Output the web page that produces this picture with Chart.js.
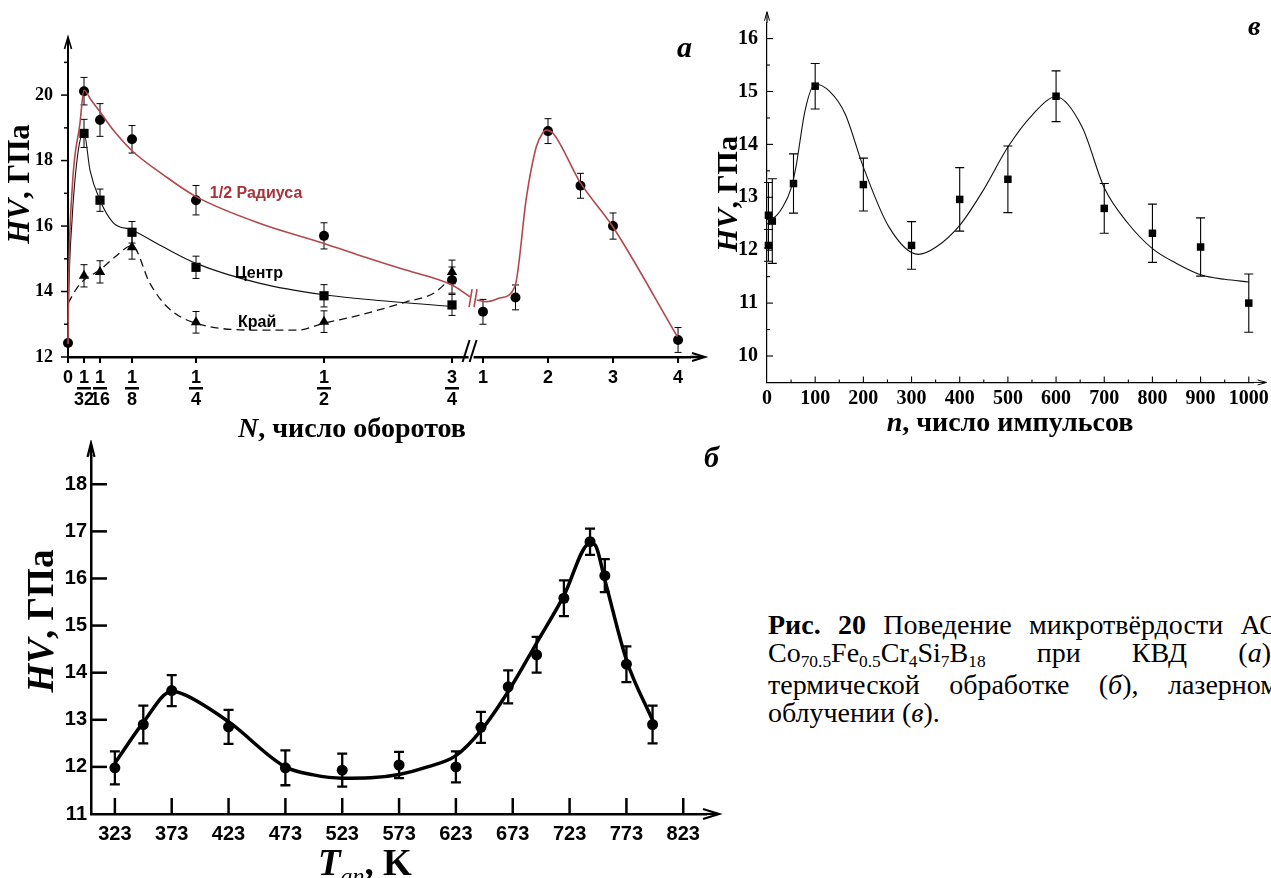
<!DOCTYPE html>
<html lang="ru">
<head>
<meta charset="utf-8">
<title>Микротвёрдость АС</title>
<script src="https://cdn.jsdelivr.net/npm/chart.js@4.4.1/dist/chart.umd.min.js"></script>
<style>
  html, body { margin: 0; background: #fff; }
  body { position: relative; width: 1271px; height: 878px; overflow: hidden; }
  canvas { position: absolute; }
  #chart-a { left: 0; top: 0; }
  #chart-v { left: 700px; top: 0; }
  #chart-b { left: 0; top: 440px; }
  #caption {
    position: absolute; left: 768px; top: 611px; width: 510px;
    font: 28px "Liberation Serif", "Times New Roman", serif; line-height: 28px; color: #000;
  }
  #caption .jl { text-align: justify; text-align-last: justify; }
  #caption sub { font-size: 0.62em; vertical-align: baseline; position: relative; top: 0.28em; }
</style>
</head>
<body>
<canvas id="chart-a" width="720" height="448"></canvas>
<canvas id="chart-b" width="740" height="438"></canvas>
<canvas id="chart-v" width="571" height="440"></canvas>
<div id="caption">
  <div class="jl"><b>Рис. 20</b> Поведение микротвёрдости АС</div>
  <div class="jl">Co<sub>70.5</sub>Fe<sub>0.5</sub>Cr<sub>4</sub>Si<sub>7</sub>B<sub>18</sub> при КВД (<i>а</i>),</div>
  <div class="jl">термической обработке (<i>б</i>), лазерном</div>
  <div>облучении (<i>в</i>).</div>
</div>
<script>
const SERIF = '"Liberation Serif", "Times New Roman", serif';
const SANS  = '"Liberation Sans", Arial, sans-serif';
const RED   = '#b2474c';

// ── (а) КВД, число оборотов N ─────────────────────────────────────────────────
const turnsTicks  = [0, 1/32, 1/16, 1/8, 1/4, 1/2, 3/4, 1, 2, 3, 4];
const turnsLabels = [['0'], ['1', '32'], ['1', '16'], ['1', '8'], ['1', '4'], ['1', '2'], ['3', '4'], ['1'], ['2'], ['3'], ['4']];
const hvTicksA    = [12, 13, 14, 15, 16, 17, 18, 19, 20, 21];

// 1/2 радиуса (circles)
const radiusN   = [0, 1/32, 1/16, 1/8, 1/4, 1/2, 3/4, 1, 1.5, 2, 2.5, 3, 4];
const radiusHV  = [12.43, 20.12, 19.24, 18.65, 16.79, 15.7, 14.35, 13.38, 13.82, 18.9, 17.23, 16.0, 12.52];
const radiusErr = [0, 0.42, 0.5, 0.42, 0.45, 0.4, 0.4, 0.38, 0.38, 0.38, 0.38, 0.4, 0.38];
// центр (squares)
const centerN   = [1/32, 1/16, 1/8, 1/4, 1/2, 3/4];
const centerHV  = [18.83, 16.79, 15.81, 14.74, 13.87, 13.59];
const centerErr = [0.43, 0.34, 0.33, 0.34, 0.34, 0.32];
// край (triangles)
const edgeN     = [1/32, 1/16, 1/8, 1/4, 1/2, 3/4];
const edgeHV    = [14.48, 14.6, 15.35, 13.06, 13.08, 14.6];
const edgeErr   = [0.34, 0.34, 0.36, 0.33, 0.33, 0.36];

// fitted curves
const radiusFitN1  = [0, 0.001, 0.008, 0.0234, 0.03125, 0.045, 0.0625, 0.09, 0.125, 0.1875, 0.25, 0.375, 0.5, 0.57, 0.65, 0.75, 0.895];
const radiusFitHV1 = [12.4, 14.0, 17.1, 19.14, 20.15, 19.85, 19.49, 18.9, 18.3, 17.55, 16.9, 16.08, 15.47, 15.1, 14.7, 14.2, 13.84];
const radiusFitN2  = [0.949, 1.057, 1.26, 1.49, 1.67, 1.82, 1.92, 1.97, 2.08, 2.49, 3.0, 3.99];
const radiusFitHV2 = [13.74, 13.69, 13.8, 14.15, 16.9, 18.42, 18.85, 18.93, 18.83, 17.35, 15.97, 12.62];
const centerFitN   = [0, 0.001, 0.008, 0.02, 0.03125, 0.043, 0.0625, 0.0885, 0.125, 0.1875, 0.25, 0.375, 0.5, 0.57, 0.75];
const centerFitHV  = [12.4, 13.6, 16.2, 18.3, 18.85, 17.7, 16.79, 16.1, 15.88, 15.35, 14.86, 14.25, 13.9, 13.78, 13.54];
const edgeFitN     = [0, 0.017, 0.03125, 0.0625, 0.092, 0.125, 0.16, 0.193, 0.25, 0.3815, 0.4466, 0.5, 0.57, 0.662, 0.7135, 0.746];
const edgeFitHV    = [13.64, 14.1, 14.35, 14.66, 15.06, 15.4, 14.25, 13.54, 13.03, 12.82, 12.82, 13.03, 13.28, 13.69, 13.94, 14.37];

const seriesLabelsA = [
  { text: '1/2 Радиуса', n: 0.277, hv: 16.85, color: '#a8323b' },
  { text: 'Центр',       n: 0.326, hv: 14.41, color: '#000' },
  { text: 'Край',        n: 0.332, hv: 12.92, color: '#000' },
];

// ── (б) отжиг, T_an ──────────────────────────────────────────────────────────
const tempTicks  = [323, 373, 423, 473, 523, 573, 623, 673, 723, 773, 823];
const hvTicksB   = [11, 12, 13, 14, 15, 16, 17, 18];
const annealT    = [323, 348, 373, 423, 473, 523, 573, 623, 645, 669, 694, 718, 741, 754, 773, 796];
const annealHV   = [11.98, 12.9, 13.62, 12.85, 11.98, 11.93, 12.04, 12.0, 12.84, 13.7, 14.38, 15.58, 16.78, 16.06, 14.18, 12.9];
const annealErr  = [0.35, 0.4, 0.33, 0.36, 0.37, 0.35, 0.28, 0.33, 0.33, 0.35, 0.38, 0.38, 0.28, 0.35, 0.38, 0.4];
const annealFitT  = [323, 347.6, 373, 384.6, 423, 473, 497.6, 523, 548, 573, 598, 623, 645, 669, 694, 717.7, 741, 745.5, 754, 773, 796];
const annealFitHV = [12.08, 12.93, 13.6, 13.53, 12.96, 12.0, 11.83, 11.76, 11.77, 11.84, 12.0, 12.24, 12.77, 13.6, 14.63, 15.62, 16.75, 16.71, 15.97, 14.27, 12.99];

// ── (в) лазер, число импульсов n ─────────────────────────────────────────────
const pulseTicks  = [0, 100, 200, 300, 400, 500, 600, 700, 800, 900, 1000];
const hvTicksV    = [10, 11, 12, 13, 14, 15, 16];
const pulseN      = [3, 3, 11, 55, 100, 200, 300, 400, 500, 600, 700, 800, 900, 1000];
const pulseHV     = [12.66, 12.09, 12.55, 13.26, 15.1, 13.24, 12.09, 12.96, 13.34, 14.91, 12.79, 12.32, 12.06, 11.0];
const pulseErr    = [0.62, 0.3, 0.8, 0.56, 0.43, 0.5, 0.45, 0.6, 0.63, 0.48, 0.47, 0.55, 0.55, 0.55];
const pulseFitN   = [0, 12, 33, 50, 60, 79, 100, 130, 162, 200, 253, 314, 351, 400, 450, 500, 550, 600, 654, 700, 750, 800, 850, 902, 950, 1000];
const pulseFitHV  = [12.58, 12.6, 12.82, 13.17, 13.57, 14.64, 15.14, 15.0, 14.58, 13.57, 12.44, 11.92, 12.06, 12.47, 13.15, 13.95, 14.55, 14.9, 14.33, 13.18, 12.5, 12.03, 11.75, 11.53, 11.45, 11.4];

// ── Helpers ──────────────────────────────────────────────────────────────────
// broken N axis: 0…3/4 linear, a short gap, then 1…4 compressed
function brokenX(n) {
  if (n <= 0.75) return n;
  if (n < 1) return 0.75 + (n - 0.75) * 0.242;
  return 0.8105 + (n - 1) * 0.127;
}

function pts(xs, ys, fx = v => v) {
  return xs.map((x, i) => ({ x: fx(x), y: ys[i] }));
}

function seg(ctx, x1, y1, x2, y2) {
  ctx.beginPath(); ctx.moveTo(x1, y1); ctx.lineTo(x2, y2); ctx.stroke();
}

// open arrowhead, tip at (x,y), pointing along (dx,dy)
function arrow(ctx, x, y, dx, dy, len, half, lw) {
  ctx.lineWidth = lw;
  ctx.beginPath();
  ctx.moveTo(x - dx * len - dy * half, y - dy * len + dx * half);
  ctx.lineTo(x, y);
  ctx.lineTo(x - dx * len + dy * half, y - dy * len - dx * half);
  ctx.stroke();
}

// mixed-style text (italic letters + plain), optionally rotated
function drawRich(ctx, parts, x, y, angle, align) {
  ctx.save();
  ctx.translate(x, y);
  if (angle) ctx.rotate(angle);
  ctx.textAlign = 'left';
  ctx.textBaseline = 'alphabetic';
  let w = 0;
  parts.forEach(p => { ctx.font = p.font; w += ctx.measureText(p.text).width; });
  let cx = align === 'left' ? 0 : -w / 2;
  parts.forEach(p => {
    ctx.font = p.font;
    ctx.fillText(p.text, cx, p.dy || 0);
    cx += ctx.measureText(p.text).width;
  });
  ctx.restore();
}

const hvTitle = size => [
  { text: 'HV', font: `italic bold ${size}px ${SERIF}` },
  { text: ', ГПа', font: `bold ${size}px ${SERIF}` },
];

const errorBars = {
  id: 'errorBars',
  beforeDatasetsDraw(chart) {
    const { ctx, scales: { x, y } } = chart;
    chart.data.datasets.forEach(ds => {
      if (!ds.errors) return;
      ctx.save();
      ctx.strokeStyle = '#000';
      ctx.lineWidth = ds.errWidth;
      ds.data.forEach((p, i) => {
        const e = ds.errors[i];
        if (!e) return;
        const px = x.getPixelForValue(p.x);
        const top = y.getPixelForValue(p.y + e), bot = y.getPixelForValue(p.y - e);
        ctx.beginPath();
        ctx.moveTo(px, top); ctx.lineTo(px, bot);
        ctx.moveTo(px - ds.errCap, top); ctx.lineTo(px + ds.errCap, top);
        ctx.moveTo(px - ds.errCap, bot); ctx.lineTo(px + ds.errCap, bot);
        ctx.stroke();
      });
      ctx.restore();
    });
  }
};

const baseOptions = () => ({
  responsive: false,
  animation: false,
  events: [],
  devicePixelRatio: 1,
  plugins: { legend: { display: false }, tooltip: { enabled: false } },
});

function curve(data, color, width, dash) {
  return {
    data, showLine: true, borderColor: color, borderWidth: width, borderDash: dash || [],
    pointRadius: 0, cubicInterpolationMode: 'monotone', fill: false, clip: false,
  };
}

function markers(data, style, radius, errors, errCap, errWidth) {
  return {
    data, showLine: false, pointStyle: style, pointRadius: radius, pointHoverRadius: radius,
    pointBackgroundColor: '#000', pointBorderColor: '#000', pointBorderWidth: 0,
    clip: false, errors, errCap, errWidth,
  };
}

function plainAxis(min, max, borderWidth) {
  return {
    type: 'linear', min, max,
    grid: { display: false, drawTicks: false },
    border: { display: true, color: '#000', width: borderWidth },
  };
}

// ── Chart (а) ────────────────────────────────────────────────────────────────
const decoA = {
  id: 'decoA',
  afterDraw(chart) {
    const { ctx, chartArea: ca, scales: { x, y } } = chart;
    ctx.save();
    ctx.strokeStyle = '#000';
    ctx.fillStyle = '#000';

    // y ticks (outside) and arrow
    ctx.lineWidth = 1.5;
    y.ticks.forEach(t => {
      const py = y.getPixelForValue(t.value);
      seg(ctx, ca.left - (t.value % 2 ? 4 : 7), py, ca.left, py);
    });
    ctx.lineWidth = 2;
    seg(ctx, ca.left, ca.top, ca.left, ca.top - 8);
    arrow(ctx, ca.left, ca.top - 9, 0, -1, 12, 3.5, 1.6);

    // x axis arrow
    ctx.lineWidth = 2.5;
    seg(ctx, ca.right, ca.bottom, ca.right + 13, ca.bottom);
    arrow(ctx, ca.right + 15, ca.bottom, 1, 0, 13, 4, 2);

    // x ticks with stacked fractions
    ctx.textAlign = 'center';
    ctx.textBaseline = 'alphabetic';
    ctx.font = `bold 18px ${SANS}`;
    turnsTicks.forEach((n, i) => {
      const px = x.getPixelForValue(brokenX(n));
      ctx.lineWidth = 2;
      seg(ctx, px, ca.bottom, px, ca.bottom + 6);
      const lab = turnsLabels[i];
      ctx.fillText(lab[0], px, ca.bottom + 26);
      if (lab[1]) {
        ctx.fillRect(px - 7, ca.bottom + 30, 14, 2.5);
        ctx.fillText(lab[1], px, ca.bottom + 48);
      }
    });

    // axis break "//"
    const bx = x.getPixelForValue(brokenX(0.9));
    ctx.fillStyle = '#fff';
    ctx.fillRect(bx - 2, ca.bottom - 3, 5, 6);
    ctx.fillStyle = '#000';
    ctx.lineWidth = 2;
    seg(ctx, bx - 8, ca.bottom + 5, bx - 1, ca.bottom - 17);
    seg(ctx, bx - 1, ca.bottom + 5, bx + 6, ca.bottom - 17);

    // break marks on the red curve
    const cy = y.getPixelForValue(13.8);
    ctx.strokeStyle = RED;
    ctx.lineWidth = 1.6;
    const b1 = x.getPixelForValue(brokenX(0.9)), b2 = x.getPixelForValue(brokenX(0.94));
    seg(ctx, b1 - 1.5, cy + 9, b1 + 1.5, cy - 9);
    seg(ctx, b2 - 1.5, cy + 9, b2 + 1.5, cy - 9);

    // series labels
    ctx.textAlign = 'left';
    ctx.font = `bold 16px ${SANS}`;
    seriesLabelsA.forEach(l => {
      ctx.fillStyle = l.color;
      ctx.fillText(l.text, x.getPixelForValue(brokenX(l.n)), y.getPixelForValue(l.hv));
    });

    // panel letter and axis titles
    ctx.fillStyle = '#000';
    drawRich(ctx, [{ text: 'а', font: `italic bold 30px ${SERIF}` }], 677, 57, 0, 'left');
    drawRich(ctx, hvTitle(31), 29, 184, -Math.PI / 2);
    drawRich(ctx, [
      { text: 'N', font: `italic bold 28px ${SERIF}` },
      { text: ', число оборотов', font: `bold 28px ${SERIF}` },
    ], 352, 437);
    ctx.restore();
  }
};

new Chart(document.getElementById('chart-a'), {
  type: 'scatter',
  data: {
    datasets: [
      curve(pts(radiusFitN1, radiusFitHV1, brokenX), RED, 1.6),
      curve(pts(radiusFitN2, radiusFitHV2, brokenX), RED, 1.6),
      curve(pts(centerFitN, centerFitHV, brokenX), '#111', 1.1),
      curve(pts(edgeFitN, edgeFitHV, brokenX), '#111', 1.3, [8, 5]),
      markers(pts(radiusN, radiusHV, brokenX), 'circle', 5, radiusErr, 3.5, 1),
      markers(pts(centerN, centerHV, brokenX), 'rect', 6.5, centerErr, 3.5, 1),
      markers(pts(edgeN, edgeHV, brokenX), 'triangle', 6, edgeErr, 3.5, 1),
    ]
  },
  options: Object.assign(baseOptions(), {
    layout: { padding: { left: 0, right: 30, top: 46, bottom: 91 } },
    scales: {
      x: Object.assign(plainAxis(0, 1.21484, 2.5), {
        ticks: { display: false },
        afterFit: s => { s.height = 0; s.paddingLeft = 0; s.paddingRight = 0; },
      }),
      y: Object.assign(plainAxis(12, 21.5, 2), {
        ticks: {
          color: '#000', padding: 15,
          font: { family: SERIF, size: 18, weight: 'bold' },
          callback: v => (v % 2 === 0 ? String(v) : ''),
        },
        afterBuildTicks: s => { s.ticks = hvTicksA.map(v => ({ value: v })); },
        afterFit: s => { s.width = 68; s.paddingTop = 0; s.paddingBottom = 0; },
      }),
    },
  }),
  plugins: [errorBars, decoA],
});

// ── Chart (в) ────────────────────────────────────────────────────────────────
const decoV = {
  id: 'decoV',
  afterDraw(chart) {
    const { ctx, chartArea: ca, scales: { x, y } } = chart;
    ctx.save();
    ctx.strokeStyle = '#000';
    ctx.fillStyle = '#000';
    ctx.lineWidth = 1.1;
    for (let v = 10; v <= 16; v += 0.5) {
      const py = y.getPixelForValue(v);
      seg(ctx, ca.left, py, ca.left + (Number.isInteger(v) ? 6 : 3), py);
    }
    for (let v = 50; v <= 1000; v += 50) {
      const px = x.getPixelForValue(v);
      seg(ctx, px, ca.bottom, px, ca.bottom - (v % 100 ? 3 : 6));
    }
    ctx.lineWidth = 1.2;
    seg(ctx, ca.left, ca.top, ca.left, ca.top - 10);
    arrow(ctx, ca.left, ca.top - 11, 0, -1, 9, 2.5, 1);
    seg(ctx, ca.right, ca.bottom, ca.right + 12, ca.bottom);
    arrow(ctx, ca.right + 13, ca.bottom, 1, 0, 9, 2.5, 1);

    drawRich(ctx, [{ text: 'в', font: `italic bold 28px ${SERIF}` }], 548, 35, 0, 'left');
    drawRich(ctx, hvTitle(30), 37, 194, -Math.PI / 2);
    drawRich(ctx, [
      { text: 'n', font: `italic bold 28px ${SERIF}` },
      { text: ', число импульсов', font: `bold 28px ${SERIF}` },
    ], 310, 431);
    ctx.restore();
  }
};

new Chart(document.getElementById('chart-v'), {
  type: 'scatter',
  data: {
    datasets: [
      curve(pts(pulseFitN, pulseFitHV), '#111', 1.1),
      markers(pts(pulseN, pulseHV), 'rect', 5.3, pulseErr, 4.5, 1.1),
    ]
  },
  options: Object.assign(baseOptions(), {
    layout: { padding: { left: 0, right: 17.4, top: 22.7, bottom: 0 } },
    scales: {
      x: Object.assign(plainAxis(0, 1010, 1.2), {
        ticks: { color: '#000', padding: 4, autoSkip: false, maxRotation: 0,
                 font: { family: SERIF, size: 20, weight: 'bold' },
                 callback: v => String(v) },
        afterBuildTicks: s => { s.ticks = pulseTicks.map(v => ({ value: v })); },
        afterFit: s => { s.height = 57.55; s.paddingLeft = 0; s.paddingRight = 0; },
      }),
      y: Object.assign(plainAxis(9.5, 16.3, 1.2), {
        ticks: { color: '#000', padding: 9, font: { family: SERIF, size: 20, weight: 'bold' },
                 callback: v => String(v) },
        afterBuildTicks: s => { s.ticks = hvTicksV.map(v => ({ value: v })); },
        afterFit: s => { s.width = 67; s.paddingTop = 0; s.paddingBottom = 0; },
      }),
    },
  }),
  plugins: [errorBars, decoV],
});

// ── Chart (б) ────────────────────────────────────────────────────────────────
const decoB = {
  id: 'decoB',
  afterDraw(chart) {
    const { ctx, chartArea: ca, scales: { x, y } } = chart;
    ctx.save();
    ctx.strokeStyle = '#000';
    ctx.fillStyle = '#000';
    ctx.lineWidth = 2.5;
    hvTicksB.slice(1).forEach(v => {
      const py = y.getPixelForValue(v);
      seg(ctx, ca.left, py, ca.left + 16, py);
    });
    tempTicks.forEach(v => {
      const px = x.getPixelForValue(v);
      seg(ctx, px, ca.bottom, px, ca.bottom - 16);
    });
    seg(ctx, ca.left, ca.top, ca.left, ca.top - 10);
    arrow(ctx, ca.left, ca.top - 13, 0, -1, 14, 3.5, 2.2);
    seg(ctx, ca.right, ca.bottom, ca.right + 10, ca.bottom);
    arrow(ctx, ca.right + 13, ca.bottom, 1, 0, 16, 5, 2.2);

    drawRich(ctx, [{ text: 'б', font: `italic bold 30px ${SERIF}` }], 704, 27, 0, 'left');
    drawRich(ctx, hvTitle(37), 53, 181, -Math.PI / 2);
    drawRich(ctx, [
      { text: 'T', font: `italic bold 37px ${SERIF}` },
      { text: 'an', font: `italic 24px ${SERIF}`, dy: 9 },
      { text: ', K', font: `bold 37px ${SERIF}` },
    ], 318, 435, 0, 'left');
    ctx.restore();
  }
};

new Chart(document.getElementById('chart-b'), {
  type: 'scatter',
  data: {
    datasets: [
      curve(pts(annealFitT, annealFitHV), '#000', 3.5),
      markers(pts(annealT, annealHV), 'circle', 5.5, annealErr, 5, 2.3),
    ]
  },
  options: Object.assign(baseOptions(), {
    layout: { padding: { left: 0, right: 34, top: 16, bottom: 0 } },
    scales: {
      x: Object.assign(plainAxis(302, 843, 2.5), {
        ticks: { color: '#000', padding: 8, autoSkip: false, maxRotation: 0,
                 font: { family: SANS, size: 20, weight: 'bold' },
                 callback: v => String(v) },
        afterBuildTicks: s => { s.ticks = tempTicks.map(v => ({ value: v })); },
        afterFit: s => { s.height = 64; s.paddingLeft = 0; s.paddingRight = 0; },
      }),
      y: Object.assign(plainAxis(11, 18.6, 2.5), {
        ticks: { color: '#000', padding: 4, font: { family: SANS, size: 20, weight: 'bold' },
                 callback: v => String(v) },
        afterBuildTicks: s => { s.ticks = hvTicksB.map(v => ({ value: v })); },
        afterFit: s => { s.width = 91; s.paddingTop = 0; s.paddingBottom = 0; },
      }),
    },
  }),
  plugins: [errorBars, decoB],
});
</script>
</body>
</html>
